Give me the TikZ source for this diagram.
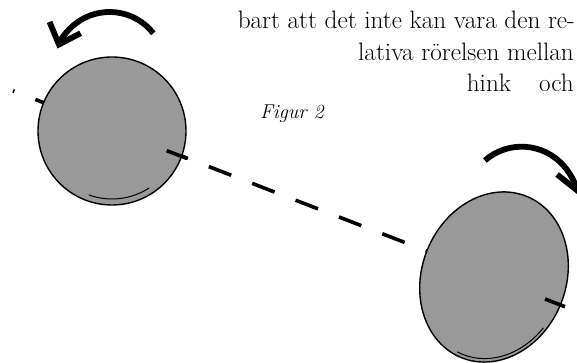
\documentclass[tikz,border=0pt]{standalone}
\usepackage{fontspec}
\usepackage{tikz}
\usepackage{xcolor}
\usetikzlibrary{arrows.meta,shapes.geometric}

\definecolor{bodygray}{gray}{0.6}

\begin{document}
\begin{tikzpicture}[x=1pt, y=1pt,
  body/.style={draw=black, line width=1.4pt, fill=bodygray, inner sep=0pt},
  spinarrow/.style={line width=5.8pt, -{Straight Barb[length=18pt, width=33pt]}},
  axisline/.style={line width=3.6pt, dash pattern=on 24pt off 22.5pt, dash phase=22.5pt},
  axistick/.style={line width=3.6pt},
  rim/.style={line width=1pt},
  textline/.style={font=\fontsize{25.2}{30}\selectfont, inner sep=0pt, anchor=base east}]
\useasboundingbox (0,0) rectangle (577,363);
\clip (0,0) rectangle (577,363);

% centres
\coordinate (lc) at (112,232);
\coordinate (rc) at (494,86);
\coordinate (axisstart) at (13,272.2);

% axis behind the bodies
\draw[axisline] (axisstart) -- (rc);

% bodies
\node[body, circle, minimum size=148pt] (lbody) at (lc) {};
\node[body, ellipse, minimum width=144pt, minimum height=174pt, rotate=-22] (rbody) at (rc) {};

\draw[rim] (lc) ++(250:68) arc[start angle=250, end angle=303, radius=68];
\begin{scope}[shift={(rc)}, rotate=-22]
\draw[rim] (265:69 and 83.5) arc[start angle=265, end angle=340, x radius=69, y radius=83.5];
\end{scope}

% ticks where the axis leaves
\coordinate (lt1) at (166.7,212.3);
\coordinate (lt2) at (186.7,204.7);
\coordinate (rt1) at (545,64);
\coordinate (rt2) at (565,56.3);
\draw[axistick] (lt1) -- (lt2);
\draw[axistick] (rt1) -- (rt2);

% spin arrows
\coordinate (lspin) at (109.6,295.5);
\coordinate (rspin) at (521.6,160.3);
\draw[spinarrow] (lspin) ++(38:55.5) arc[start angle=38, end angle=160, radius=55.5];
\draw[spinarrow] (rspin) ++(131:56) arc[start angle=131, end angle=9, radius=56];

% text
\node[textline] (line1) at (575,334.7) {bart att det inte kan vara den re-};
\node[textline] (line2) at (574,302) {lativa rörelsen mellan};
\node[textline] (line3) at (574,271.3) {hink\hspace{28pt}och};
\node[font=\fontsize{20}{20}\selectfont\itshape, inner sep=0pt, anchor=base west] (figlabel) at (260,244.7) {Figur 2};
\end{tikzpicture}
\end{document}
